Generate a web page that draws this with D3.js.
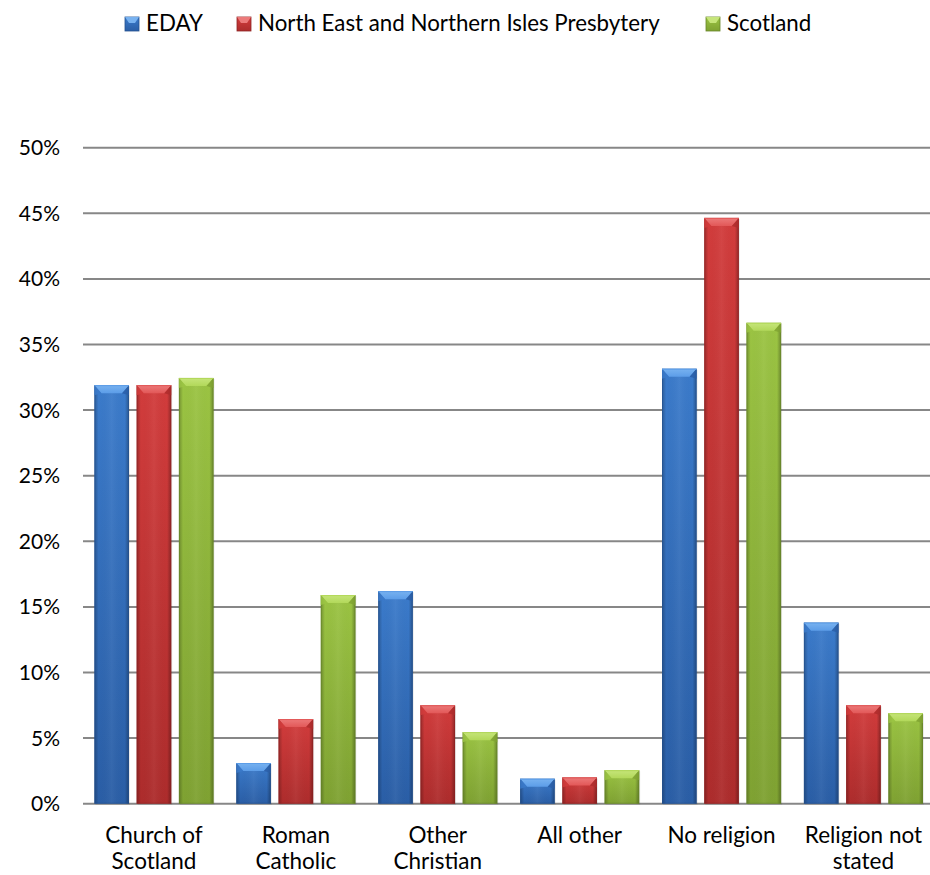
<!DOCTYPE html>
<html>
<head>
<meta charset="utf-8">
<script src="https://cdn.jsdelivr.net/npm/d3@7"></script>
<style>
  html, body { margin: 0; padding: 0; background: #fff; }
  svg { display: block; }
  text { font-family: Lato, "Open Sans", sans-serif; fill: #000; }
</style>
</head>
<body>
<svg id="chart" width="930" height="875"></svg>
<script>
const categories = ["Church of Scotland", "Roman Catholic", "Other Christian", "All other", "No religion", "Religion not stated"];
const categoryLines = [["Church of", "Scotland"], ["Roman", "Catholic"], ["Other", "Christian"], ["All other"], ["No religion"], ["Religion not", "stated"]];
const seriesNames = ["EDAY", "North East and Northern Isles Presbytery", "Scotland"];
const eday = [31.9, 3.1, 16.2, 1.9, 33.15, 13.8];
const presbytery = [31.9, 6.45, 7.5, 2.0, 44.65, 7.5];
const scotland = [32.45, 15.9, 5.45, 2.55, 36.65, 6.9];
const yTicks = [0, 5, 10, 15, 20, 25, 30, 35, 40, 45, 50];

const seriesValues = [eday, presbytery, scotland];
const palette = [
  { light: "#5c9de8", mid: "#3b7bcb", dark: "#2a5ea6", edge: "#24528f", top: "#78b2f0" },
  { light: "#e25858", mid: "#d23c3c", dark: "#ad2c2c", edge: "#8f2323", top: "#ec7a7a" },
  { light: "#b2d85a", mid: "#9bc443", dark: "#7fa232", edge: "#688629", top: "#c6e57a" }
];

const svg = d3.select("#chart");
const left = 83, bandW = 141.9;
const x0 = d3.scaleBand().domain(categories).range([left, left + bandW * categories.length]).padding(0);
const x1 = d3.scaleBand().domain(seriesNames).range([11.4, bandW - 11.4]).paddingInner(0.181).paddingOuter(0);
const y = d3.scaleLinear().domain([0, 50]).range([803.7, 147.7]);

const defs = svg.append("defs");
palette.forEach((c, i) => {
  const v = defs.append("linearGradient").attr("id", "v" + i).attr("x1", 0).attr("y1", 0).attr("x2", 0).attr("y2", 1);
  v.append("stop").attr("offset", 0).attr("stop-color", c.mid);
  v.append("stop").attr("offset", 1).attr("stop-color", c.dark);
  const h = defs.append("linearGradient").attr("id", "h" + i).attr("x1", 0).attr("y1", 0).attr("x2", 1).attr("y2", 0);
  h.append("stop").attr("offset", 0).attr("stop-color", "#000").attr("stop-opacity", 0.25);
  h.append("stop").attr("offset", 0.12).attr("stop-color", "#000").attr("stop-opacity", 0.0);
  h.append("stop").attr("offset", 0.5).attr("stop-color", "#fff").attr("stop-opacity", 0.05);
  h.append("stop").attr("offset", 0.88).attr("stop-color", "#000").attr("stop-opacity", 0.0);
  h.append("stop").attr("offset", 1).attr("stop-color", "#000").attr("stop-opacity", 0.3);
  const t = defs.append("linearGradient").attr("id", "t" + i).attr("x1", 0).attr("y1", 0).attr("x2", 0).attr("y2", 1);
  t.append("stop").attr("offset", 0).attr("stop-color", c.top);
  t.append("stop").attr("offset", 1).attr("stop-color", c.light);
});

svg.append("g").selectAll("line").data(yTicks).join("line")
  .attr("x1", left).attr("x2", 930)
  .attr("y1", d => y(d)).attr("y2", d => y(d))
  .attr("stroke", "#878787").attr("stroke-width", 2);

svg.append("g").selectAll("text").data(yTicks).join("text")
  .attr("x", 60).attr("y", d => y(d)).attr("dy", "0.36em")
  .attr("text-anchor", "end").attr("font-size", 21)
  .text(d => d + "%");

const groups = svg.append("g").selectAll("g").data(categories).join("g")
  .attr("transform", d => `translate(${x0(d)},0)`);

seriesNames.forEach((s, si) => {
  groups.each(function(cat, ci) {
    const g = d3.select(this);
    const v = seriesValues[si][ci];
    const bx = x1(s), bw = x1.bandwidth();
    const by = y(v), bh = y(0) - y(v);
    const c = palette[si];
    g.append("rect").attr("x", bx + 1).attr("y", by + 1).attr("width", bw).attr("height", bh)
      .attr("fill", "#000").attr("opacity", 0.08);
    g.append("rect").attr("x", bx).attr("y", by).attr("width", bw).attr("height", bh)
      .attr("fill", `url(#v${si})`);
    g.append("rect").attr("x", bx).attr("y", by).attr("width", bw).attr("height", bh)
      .attr("fill", `url(#h${si})`);
    g.append("rect").attr("x", bx + 0.5).attr("y", by + 0.5).attr("width", bw - 1).attr("height", Math.max(0, bh - 1))
      .attr("fill", "none").attr("stroke", c.edge).attr("stroke-opacity", 0.6).attr("stroke-width", 1);
    const bev = Math.min(8, bh / 2);
    g.append("path")
      .attr("d", `M${bx},${by} L${bx + bw},${by} L${bx + bw - 7},${by + bev} L${bx + 7},${by + bev} Z`)
      .attr("fill", `url(#t${si})`);
    g.append("path")
      .attr("d", `M${bx},${by} L${bx + 7},${by + bev} L${bx},${by + bev + 2} Z`)
      .attr("fill", c.mid).attr("opacity", 0.8);
    g.append("path")
      .attr("d", `M${bx + bw},${by} L${bx + bw - 7},${by + bev} L${bx + bw},${by + bev + 2} Z`)
      .attr("fill", c.dark).attr("opacity", 0.8);
    g.append("line").attr("x1", bx).attr("x2", bx + bw).attr("y1", by + 0.5).attr("y2", by + 0.5)
      .attr("stroke", c.light).attr("stroke-width", 1);
  });
});

svg.append("g").selectAll("text").data(categories).join("text")
  .attr("x", d => x0(d) + x0.bandwidth() / 2)
  .attr("y", 843)
  .attr("text-anchor", "middle").attr("font-size", 22.5)
  .each(function(d, i) {
    const t = d3.select(this);
    categoryLines[i].forEach((ln, li) => {
      t.append("tspan").attr("x", x0(d) + x0.bandwidth() / 2).attr("dy", li === 0 ? 0 : 26).text(ln);
    });
  });

const legendX = [125, 237, 706];
const legend = svg.append("g").selectAll("g").data(seriesNames).join("g")
  .attr("transform", (d, i) => `translate(${legendX[i]},17)`);
legend.append("rect").attr("width", 14).attr("height", 14)
  .attr("fill", (d, i) => `url(#v${i})`).attr("stroke", (d, i) => palette[i].edge).attr("stroke-width", 0.8);
legend.append("path").attr("d", "M0,0 L14,0 L10,6 L4,6 Z").attr("fill", (d, i) => palette[i].top);
legend.append("text").attr("x", 21).attr("y", 14).attr("font-size", 22.3).text(d => d);
</script>
</body>
</html>
